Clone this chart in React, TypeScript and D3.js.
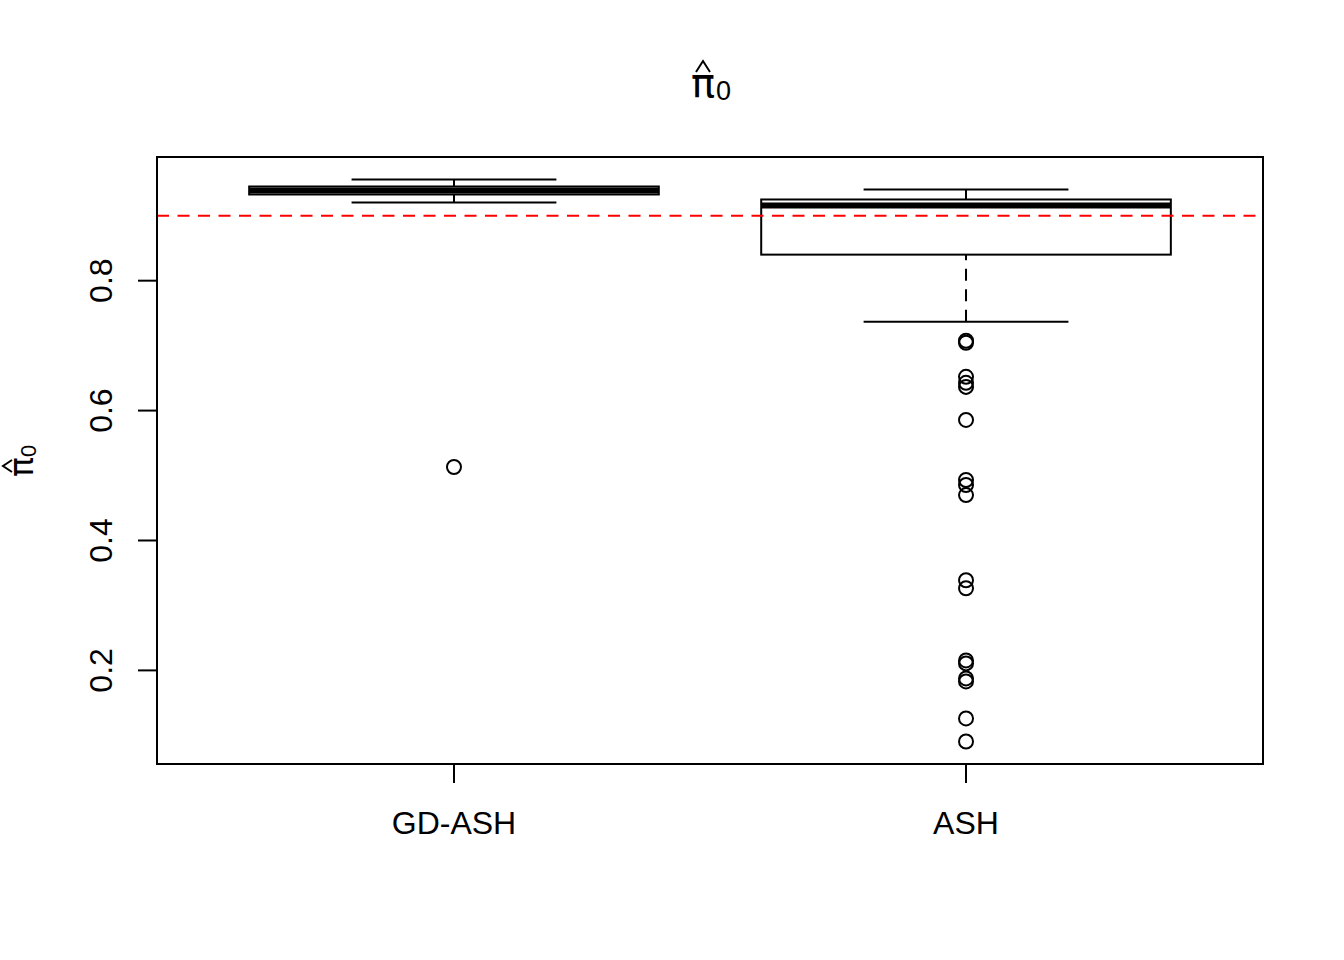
import React from "react";
import * as d3 from "d3";

const categories = ["GD-ASH", "ASH"];
const whiskerLow = [0.9203, 0.7368];
const q1 = [0.9327, 0.8401];
const medians = [0.9389, 0.9157];
const q3 = [0.945, 0.925];
const whiskerHigh = [0.9558, 0.9404];
const outliersGD = [0.5131];
const outliersASH = [
  0.7075, 0.7044, 0.652, 0.6427, 0.6365, 0.5856, 0.4931, 0.4854, 0.4699,
  0.3388, 0.3265, 0.2154, 0.2108, 0.1877, 0.183, 0.126, 0.0905,
];
const outliers = [outliersGD, outliersASH];
const refLine = 0.9;
const yTicks = [0.2, 0.4, 0.6, 0.8];
const yTickLabels = ["0.2", "0.4", "0.6", "0.8"];

const W = 1344;
const H = 960;
const L = 157;
const R = 1263;
const T = 157;
const B = 764;
const FONT = "'Liberation Sans', Arial, Helvetica, sans-serif";

export default function App() {
  const allVals = [
    ...whiskerLow,
    ...whiskerHigh,
    ...outliersGD,
    ...outliersASH,
  ];
  const lo = d3.min(allVals) as number;
  const hi = d3.max(allVals) as number;
  const ext = (hi - lo) * 0.04;
  const y = d3.scaleLinear().domain([lo - ext, hi + ext]).range([B, T]);
  const n = categories.length;
  const x = d3
    .scaleLinear()
    .domain([0.5 - n * 0.04, n + 0.5 + n * 0.04])
    .range([L, R]);
  const halfBox = x(1.4) - x(1);
  const halfCap = x(1.2) - x(1);
  const tickLen = 19;
  const fs = 32;

  const titleX = (L + R) / 2;

  return (
    <svg
      width={W}
      height={H}
      style={{ position: "absolute", left: 0, top: 0, display: "block", background: "#fff" }}
      fontFamily={FONT}
    >
      <rect x={0} y={0} width={W} height={H} fill="#fff" />
      {categories.map((c, i) => {
        const cx = x(i + 1);
        return (
          <g key={c}>
            <path
              d={`M${cx},${y(whiskerLow[i])}L${cx},${y(q1[i])}`}
              stroke="#000"
              strokeWidth={2}
              strokeDasharray="12 8.5"
              fill="none"
            />
            <path
              d={`M${cx},${y(whiskerHigh[i])}L${cx},${y(q3[i])}`}
              stroke="#000"
              strokeWidth={2}
              strokeDasharray="12 8.5"
              fill="none"
            />
            <line x1={cx - halfCap} x2={cx + halfCap} y1={y(whiskerLow[i])} y2={y(whiskerLow[i])} stroke="#000" strokeWidth={2} />
            <line x1={cx - halfCap} x2={cx + halfCap} y1={y(whiskerHigh[i])} y2={y(whiskerHigh[i])} stroke="#000" strokeWidth={2} />
            <rect
              x={cx - halfBox}
              y={y(q3[i])}
              width={2 * halfBox}
              height={y(q1[i]) - y(q3[i])}
              fill="none"
              stroke="#000"
              strokeWidth={2}
            />
            <line x1={cx - halfBox} x2={cx + halfBox} y1={y(medians[i])} y2={y(medians[i])} stroke="#000" strokeWidth={6} />
            {outliers[i].map((v, j) => (
              <circle key={j} cx={cx} cy={y(v)} r={7} fill="none" stroke="#000" strokeWidth={2} />
            ))}
          </g>
        );
      })}
      <line
        x1={L}
        x2={R}
        y1={y(refLine)}
        y2={y(refLine)}
        stroke="#ff0000"
        strokeWidth={2}
        strokeDasharray="12 8.5"
      />
      <rect x={L} y={T} width={R - L} height={B - T} fill="none" stroke="#000" strokeWidth={2} />
      {yTicks.map((t, i) => (
        <g key={t}>
          <line x1={L} x2={L - tickLen} y1={y(t)} y2={y(t)} stroke="#000" strokeWidth={2} />
          <text
            transform={`translate(112,${y(t)}) rotate(-90)`}
            textAnchor="middle"
            fontSize={fs}
            fill="#000"
          >
            {yTickLabels[i]}
          </text>
        </g>
      ))}
      {categories.map((c, i) => (
        <g key={c}>
          <line x1={x(i + 1)} x2={x(i + 1)} y1={B} y2={B + tickLen} stroke="#000" strokeWidth={2} />
          <text x={x(i + 1)} y={834} textAnchor="middle" fontSize={fs} fill="#000">
            {c}
          </text>
        </g>
      ))}
      <g transform={`translate(${titleX},97)`}>
        <text x={-19} y={0} fontSize={40} fill="#000" fontFamily="'DejaVu Sans', sans-serif">
          π
        </text>
        <text x={6} y={3} fontSize={27} fill="#000">
          0
        </text>
        <path d="M-14,-25L-7,-36L0,-25" fill="none" stroke="#000" strokeWidth={2} />
      </g>
      <g transform={`translate(33,461) rotate(-90)`}>
        <text x={-16} y={0} fontSize={33} fill="#000" fontFamily="'DejaVu Sans', sans-serif">
          π
        </text>
        <text x={4} y={3} fontSize={22} fill="#000">
          0
        </text>
        <path d="M-11,-21L-5,-30L1,-21" fill="none" stroke="#000" strokeWidth={2} />
      </g>
    </svg>
  );
}
